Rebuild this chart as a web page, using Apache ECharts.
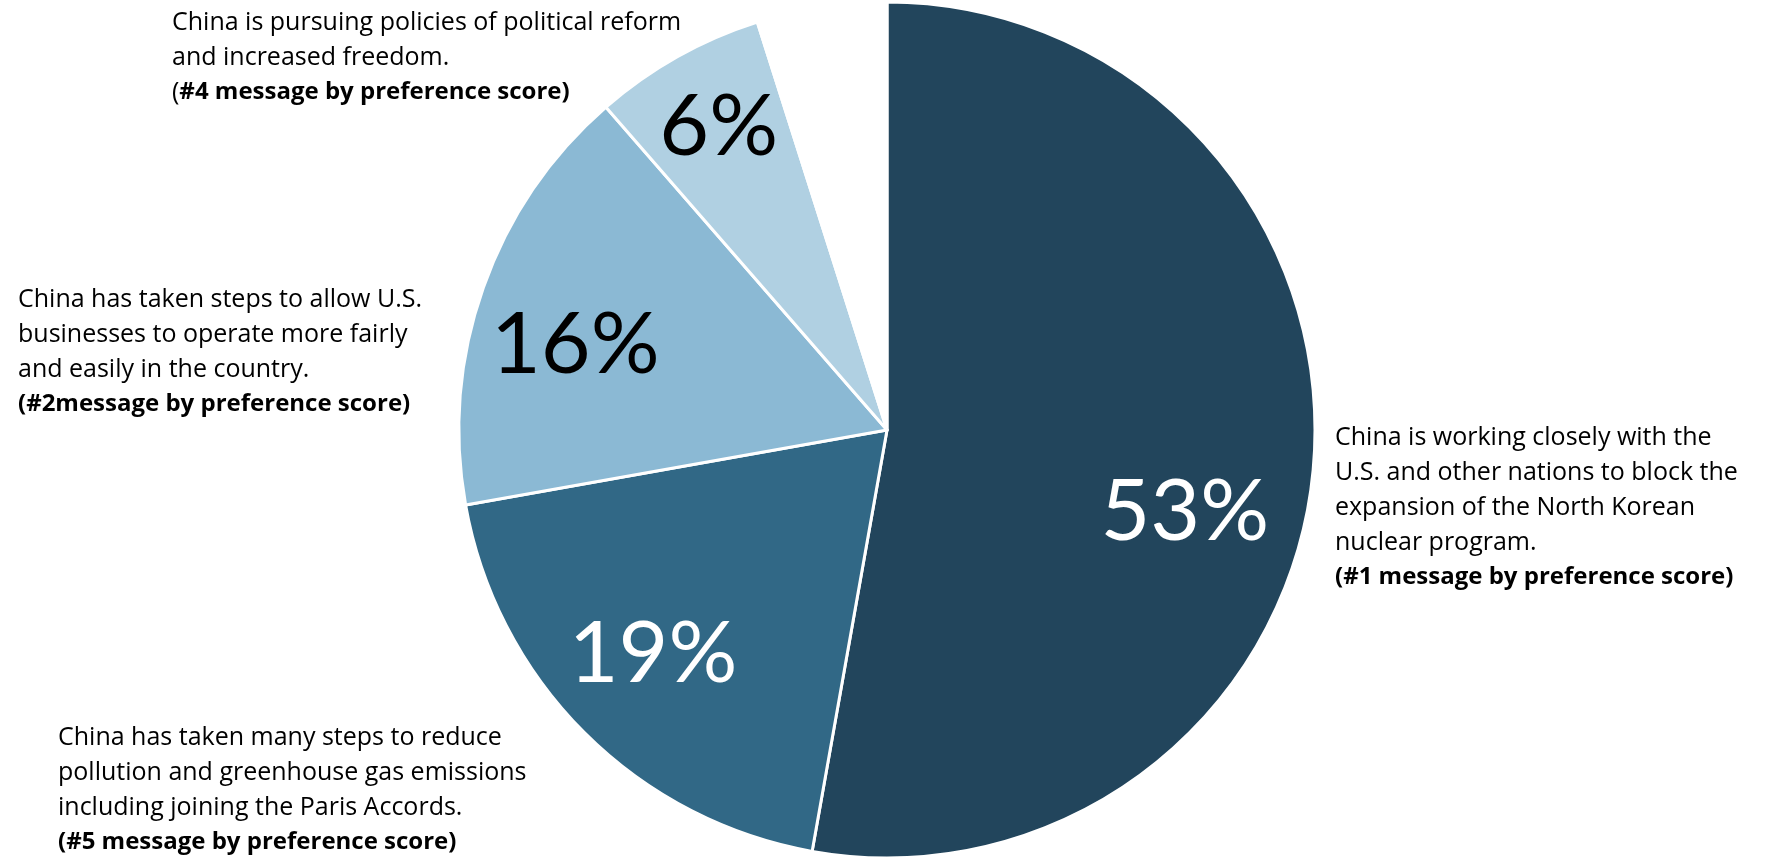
<!DOCTYPE html>
<html>
<head>
<meta charset="utf-8">
<script src="https://cdn.jsdelivr.net/npm/echarts@6/dist/echarts.min.js"></script>
<style>
  html, body { margin: 0; padding: 0; background: #fff; }
  #main { width: 1777px; height: 858px; }
</style>
</head>
<body>
<div id="main"></div>
<script>
let values = [52.8, 19.4, 16.4, 6.5, 4.9];
let pctLabels = ['53%', '19%', '16%', '6%', ''];
let messages = [
  'China is working closely with the\nU.S. and other nations to block the\nexpansion of the North Korean\nnuclear program.',
  'China has taken many steps to reduce\npollution and greenhouse gas emissions\nincluding joining the Paris Accords.',
  'China has taken steps to allow U.S.\nbusinesses to operate more fairly\nand easily in the country.',
  'China is pursuing policies of political reform\nand increased freedom.',
  ''
];
let ranks = ['(#1 message by preference score)', '(#5 message by preference score)', '(#2message by preference score)', '(#4 message by preference score)', ''];
let colors = ['#22455c', '#316886', '#8bb9d4', '#b0d0e2', '#ffffff'];
let pctColors = ['#ffffff', '#ffffff', '#000000', '#000000', '#000000'];

// layout
const cx = 887, cy = 430, R = 428;
const pctRadius = 0.75;
const pctShift = [[-22, 54], [-7, -3], [-9, 22], [-11, -23], [0, 0]];
const noteBox = [[1335, 420], [58, 720], [18, 282], [172, 5], [0, 0]];

const total = values.reduce((a, b) => a + b, 0);
function midAngle(i) {
  let a = 0;
  for (let j = 0; j < i; j++) a += values[j];
  return (a + values[i] / 2) / total * Math.PI * 2;
}

const pctFont = 'Lato';
const noteFont = 'Open Sans';
const chart = echarts.init(document.getElementById('main'));

const option = {
  backgroundColor: '#fff',
  animation: false,
  series: [
    {
      type: 'pie',
      center: [cx, cy],
      radius: [0, R],
      startAngle: 90,
      clockwise: true,
      silent: true,
      itemStyle: { borderColor: '#fff', borderWidth: 3 },
      label: {
        show: true,
        position: 'inside',
        fontFamily: pctFont,
        fontSize: 86,
        formatter: p => pctLabels[p.dataIndex]
      },
      labelLine: { show: false },
      labelLayout: p => {
        const a = midAngle(p.dataIndex);
        const s = pctShift[p.dataIndex];
        return {
          x: cx + R * pctRadius * Math.sin(a) + s[0],
          y: cy - R * pctRadius * Math.cos(a) + s[1],
          align: 'center',
          verticalAlign: 'middle'
        };
      },
      data: values.map((v, i) => ({
        value: v,
        name: 'slice' + i,
        itemStyle: { color: colors[i] },
        label: { color: pctColors[i], show: i < 4 }
      }))
    },
    {
      type: 'pie',
      center: [cx, cy],
      radius: [0, R],
      startAngle: 90,
      silent: true,
      itemStyle: { color: 'rgba(0,0,0,0)', borderWidth: 0 },
      label: {
        show: true,
        position: 'inside',
        color: '#000',
        formatter: p => {
          const i = p.dataIndex;
          if (ranks[i].startsWith('(#4')) {
            return '{t|' + messages[i] + '}\n{t|(}{b|' + ranks[i].slice(1) + '}';
          }
          return '{t|' + messages[i] + '}\n{b|' + ranks[i] + '}';
        },
        rich: {
          t: { fontFamily: noteFont, fontSize: 25, lineHeight: 35, color: '#000' },
          b: { fontFamily: noteFont, fontSize: 24, lineHeight: 35, fontWeight: 'bold', color: '#000' }
        }
      },
      labelLine: { show: false },
      labelLayout: p => ({
        x: noteBox[p.dataIndex][0],
        y: noteBox[p.dataIndex][1],
        align: 'left',
        verticalAlign: 'top'
      }),
      data: values.map((v, i) => ({
        value: v,
        name: 'note' + i,
        label: { show: i < 4 }
      }))
    }
  ]
};
chart.setOption(option);
</script>
</body>
</html>
